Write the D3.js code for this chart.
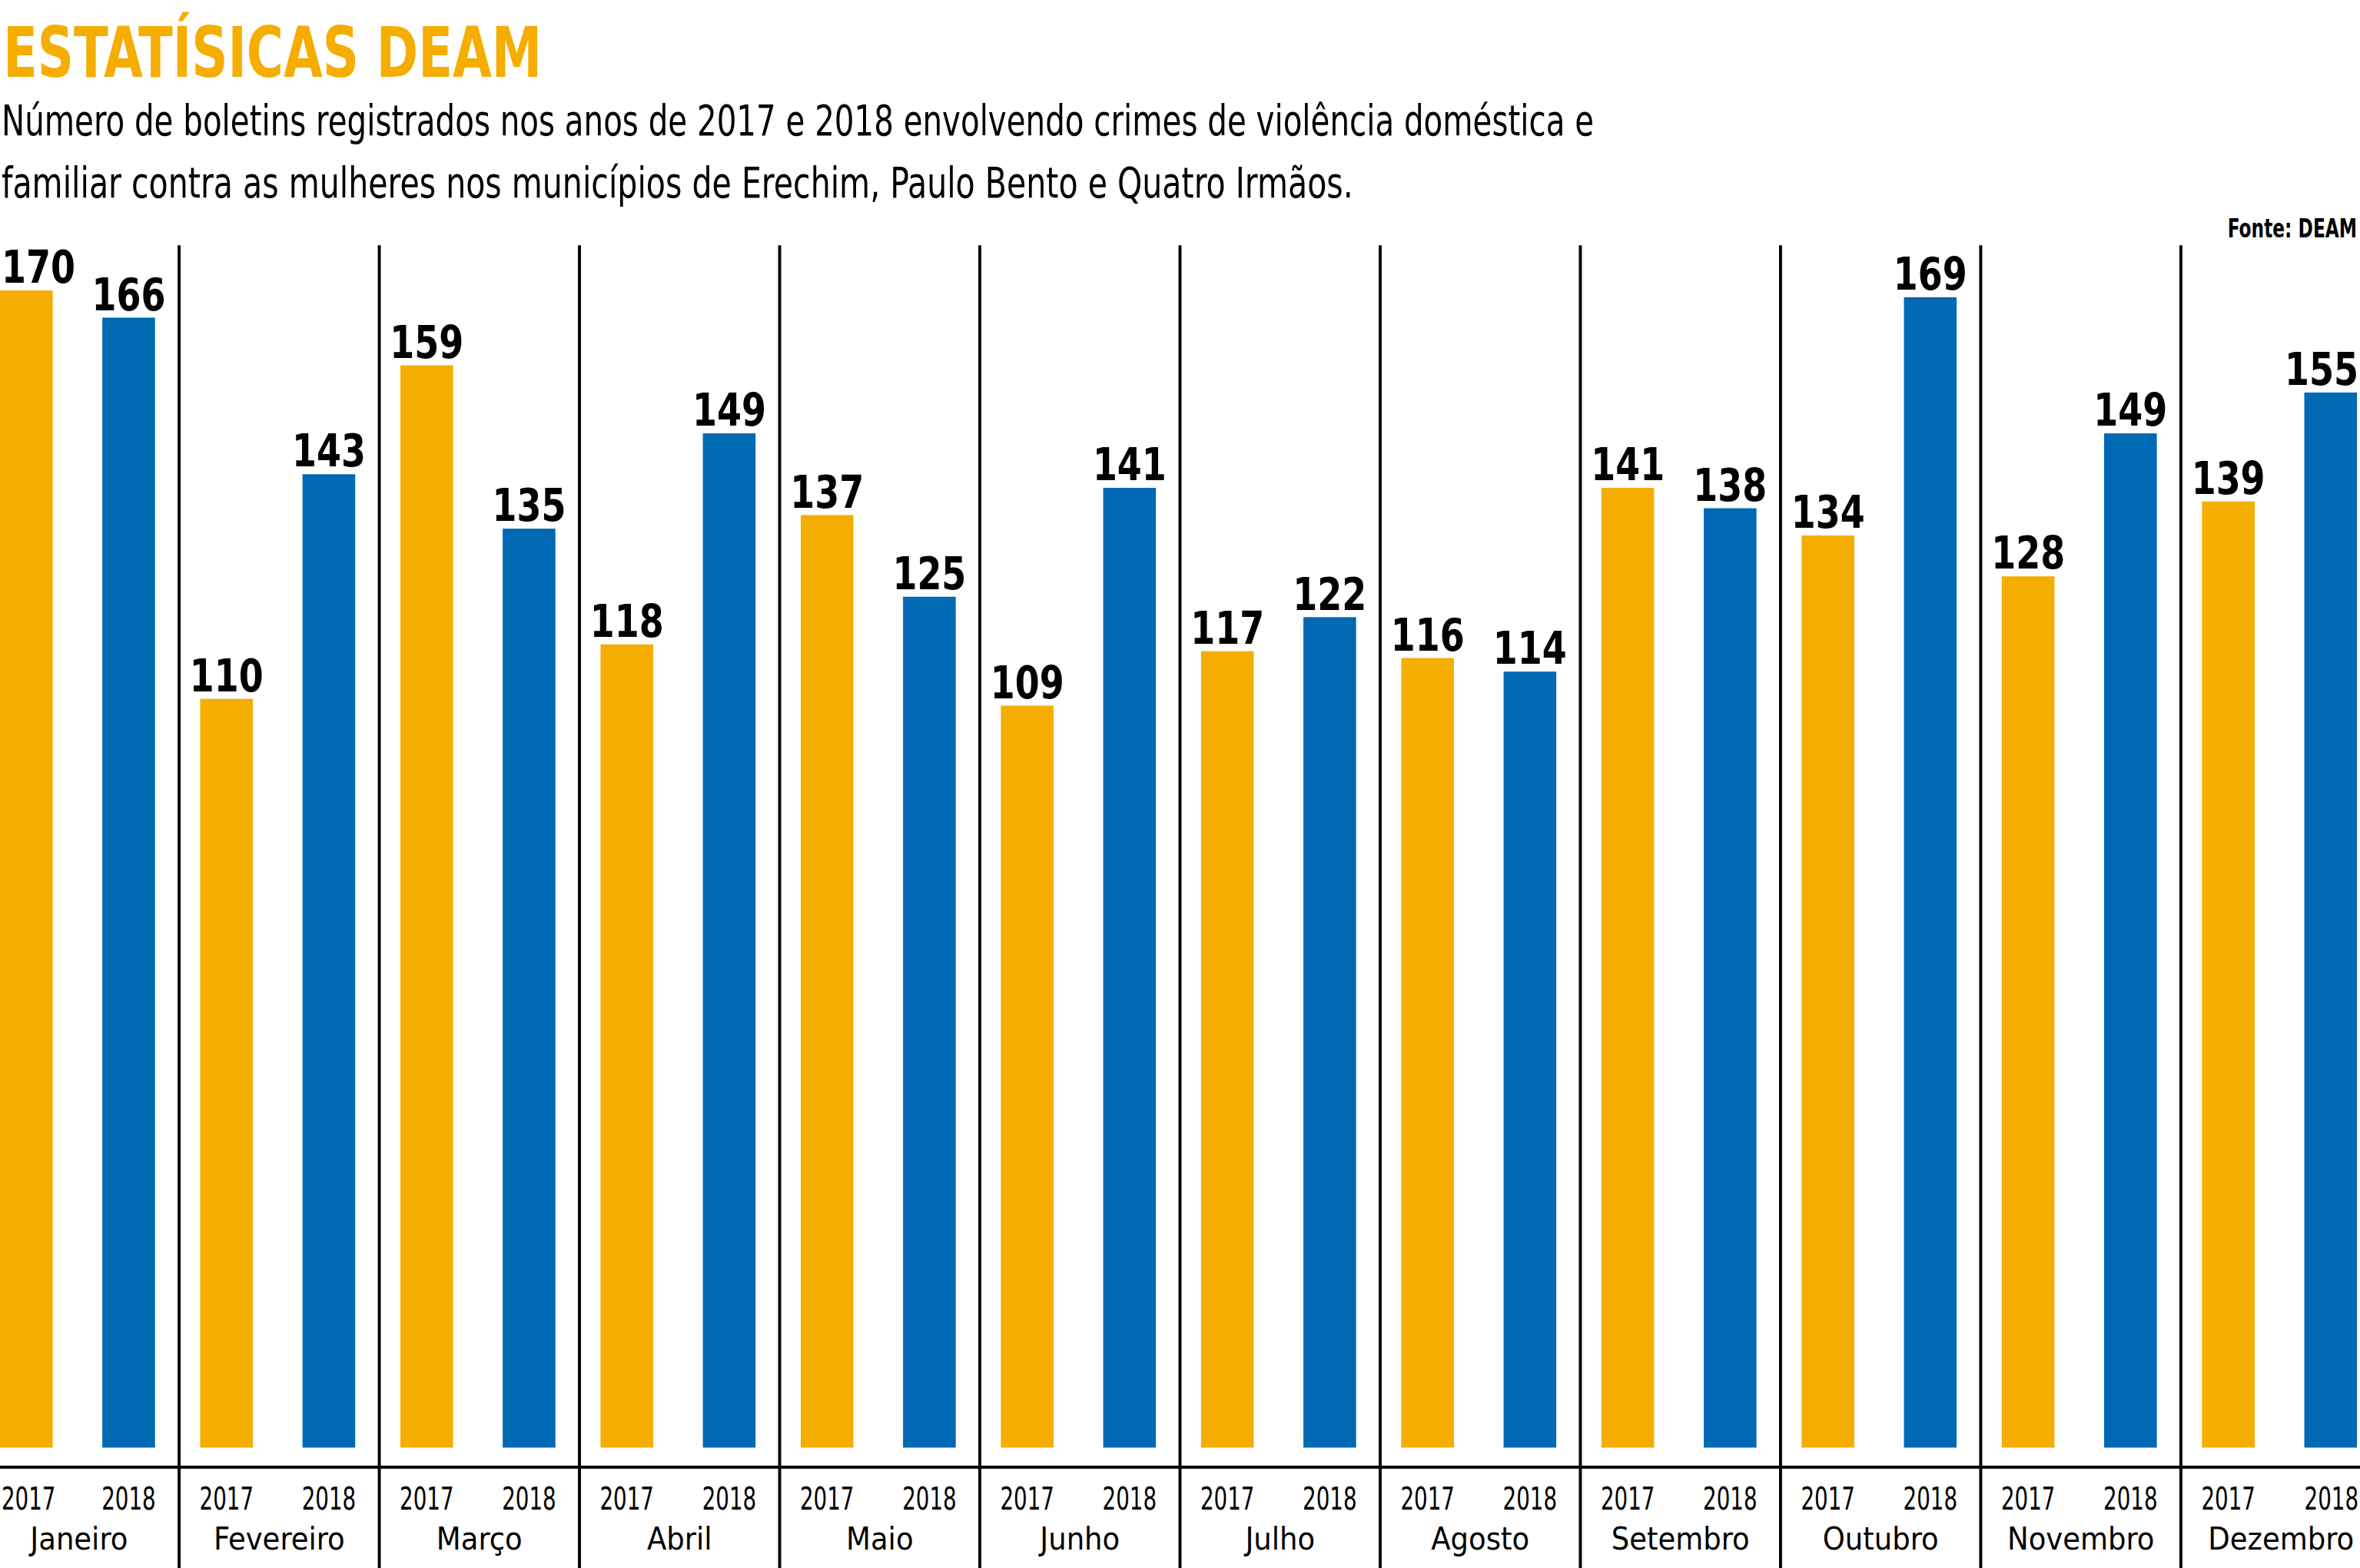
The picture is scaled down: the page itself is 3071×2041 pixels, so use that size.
<!DOCTYPE html>
<html>
<head>
<meta charset="utf-8">
<script src="https://cdn.jsdelivr.net/npm/d3@7"></script>
<style>
  html, body { margin: 0; padding: 0; background: #fff; overflow: hidden; }
  text { font-family: "DejaVu Sans Condensed", "Liberation Sans Narrow", sans-serif; }
</style>
</head>
<body>
<svg id="chart" width="3071" height="2041" viewBox="0 0 1568 1042" preserveAspectRatio="none"></svg>
<script>
const months = ["Janeiro", "Fevereiro", "Março", "Abril", "Maio", "Junho", "Julho", "Agosto", "Setembro", "Outubro", "Novembro", "Dezembro"];
const years = ["2017", "2018"];
const values2017 = [170, 110, 159, 118, 137, 109, 117, 116, 141, 134, 128, 139];
const values2018 = [166, 143, 135, 149, 125, 141, 122, 114, 138, 169, 149, 155];

const colors = { "2017": "#F5AD00", "2018": "#0069B4" };

const svg = d3.select("#chart");
const baseY = 962;

// title block
svg.append("text")
  .attr("x", 2).attr("y", 51)
  .attr("font-size", 46).attr("font-weight", "bold")
  .attr("fill", "#F5AD00")
  .attr("textLength", 358).attr("lengthAdjust", "spacingAndGlyphs")
  .text("ESTATÍSICAS DEAM");

const sub = [
  ["Número de boletins registrados nos anos de 2017 e 2018 envolvendo crimes de violência doméstica e", 90, 1058],
  ["familiar contra as mulheres nos municípios de Erechim, Paulo Bento e Quatro Irmãos.", 131, 898]
];
sub.forEach(([t, y, w]) => {
  svg.append("text")
    .attr("x", 1).attr("y", y)
    .attr("font-size", 28)
    .style("font-family", "'Liberation Sans Narrow', 'DejaVu Sans Condensed', sans-serif")
    .attr("textLength", w).attr("lengthAdjust", "spacingAndGlyphs")
    .text(t);
});

svg.append("text")
  .attr("x", 1566).attr("y", 158)
  .attr("text-anchor", "end")
  .attr("font-size", 17).attr("font-weight", "bold")
  .attr("textLength", 86).attr("lengthAdjust", "spacingAndGlyphs")
  .text("Fonte: DEAM");

// scales
const x = d3.scaleBand().domain(months).range([-14, 1582]).padding(0);
const xi = d3.scaleBand().domain(years).range([14, 117]).paddingInner(0.485).paddingOuter(0);
const y = d3.scaleLinear().domain([0, 170]).range([baseY, 193]);

const data = [];
months.forEach((m, i) => {
  data.push({ month: m, year: "2017", value: values2017[i] });
  data.push({ month: m, year: "2018", value: values2018[i] });
});

const first = d => d.month === months[0] && d.year === "2017";
const last = d => d.month === months[months.length - 1] && d.year === "2018";
const cx = d => x(d.month) + xi(d.year) + xi.bandwidth() / 2;
// keep edge labels inside the frame, as the reference does
const lx = d => first(d) ? 1 : last(d) ? 1567 : cx(d);
const anchor = d => first(d) ? "start" : last(d) ? "end" : "middle";

// separators
svg.selectAll(".sep")
  .data(months.slice(1))
  .enter().append("line")
  .attr("x1", d => x(d)).attr("x2", d => x(d))
  .attr("y1", 163).attr("y2", 1042)
  .attr("stroke", "#000").attr("stroke-width", 2);

// bars
svg.selectAll(".bar")
  .data(data)
  .enter().append("rect")
  .attr("x", d => x(d.month) + xi(d.year))
  .attr("width", xi.bandwidth())
  .attr("y", d => y(d.value))
  .attr("height", d => baseY - y(d.value))
  .attr("fill", d => colors[d.year]);

// value labels
svg.selectAll(".val")
  .data(data)
  .enter().append("text")
  .attr("x", lx)
  .attr("y", d => y(d.value) - 5)
  .attr("text-anchor", anchor)
  .attr("font-size", 30).attr("font-weight", "bold")
  .attr("textLength", 49).attr("lengthAdjust", "spacingAndGlyphs")
  .text(d => d.value);

// axis line
svg.append("line")
  .attr("x1", 0).attr("x2", 1568)
  .attr("y1", 975).attr("y2", 975)
  .attr("stroke", "#000").attr("stroke-width", 2);

// year labels
svg.selectAll(".yr")
  .data(data)
  .enter().append("text")
  .attr("x", lx)
  .attr("y", 1003)
  .attr("text-anchor", anchor)
  .attr("font-size", 21)
  .style("font-family", "'Liberation Sans Narrow', 'DejaVu Sans Condensed', sans-serif")
  .attr("textLength", 36).attr("lengthAdjust", "spacingAndGlyphs")
  .text(d => d.year);

// month labels
svg.selectAll(".mon")
  .data(months)
  .enter().append("text")
  .attr("x", d => x(d) + x.bandwidth() / 2)
  .attr("y", 1030)
  .attr("text-anchor", "middle")
  .attr("font-size", 21)
  .text(d => d);
</script>
</body>
</html>
